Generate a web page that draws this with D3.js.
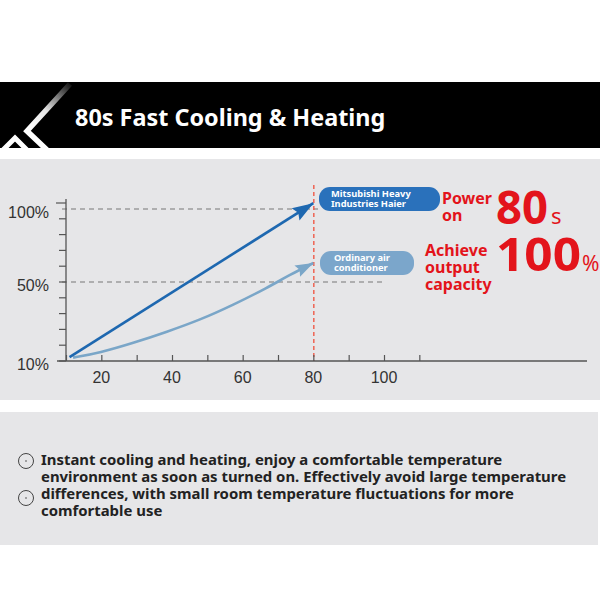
<!DOCTYPE html>
<html>
<head>
<meta charset="utf-8">
<script src="https://cdn.jsdelivr.net/npm/d3@7/dist/d3.min.js"></script>
<style>
  html, body { margin: 0; padding: 0; background: #ffffff; }
  svg { display: block; font-family: "Noto Sans", "Open Sans", sans-serif; }
</style>
</head>
<body>
<svg id="chart" width="600" height="600"></svg>
<script>
// ---- data ----
const title = "80s Fast Cooling & Heating";
const xTicks = [10, 20, 30, 40, 50, 60, 70, 80, 90, 100, 110];
const xTickLabels = [20, 40, 60, 80, 100];
const yTickLabels = [10, 50, 100];
const yMinorTickCount = 11;
const seriesNames = ["Mitsubishi Heavy Industries Haier", "Ordinary air conditioner"];
const haierX = [11, 80];
const haierY = [12, 104];
const ordinaryX = [12, 19.6, 29, 38.6, 47.9, 57.3, 66.9, 73.4, 80];
const ordinaryY = [11.7, 14.2, 19.1, 24.8, 30.8, 38.4, 47, 55, 63];
const markerTime = 80;
const bodyLines = [
  "Instant cooling and heating, enjoy a comfortable temperature",
  "environment as soon as turned on. Effectively avoid large temperature",
  "differences, with small room temperature fluctuations for more",
  "comfortable use"
];

const svg = d3.select("#chart");
const PANEL = "#e6e6e8";

// ---- backgrounds ----
svg.append("rect").attr("x", 0).attr("y", 0).attr("width", 600).attr("height", 600).attr("fill", "#fff");
svg.append("rect").attr("x", 0).attr("y", 82).attr("width", 600).attr("height", 66).attr("fill", "#000");
svg.append("rect").attr("x", 0).attr("y", 159).attr("width", 600).attr("height", 241).attr("fill", PANEL);
svg.append("rect").attr("x", 0).attr("y", 412).attr("width", 598).attr("height", 133).attr("fill", PANEL);

// ---- banner logo ----
const defs = svg.append("defs");
const grad = defs.append("linearGradient").attr("id", "stripe")
  .attr("gradientUnits", "userSpaceOnUse").attr("x1", 72).attr("y1", 84).attr("x2", 30).attr("y2", 130);
grad.append("stop").attr("offset", 0).attr("stop-color", "#fff").attr("stop-opacity", 0.05);
grad.append("stop").attr("offset", 0.6).attr("stop-color", "#fff").attr("stop-opacity", 0.9);
grad.append("stop").attr("offset", 1).attr("stop-color", "#fff").attr("stop-opacity", 1);
defs.append("clipPath").attr("id", "bannerClip").append("rect")
  .attr("x", 0).attr("y", 82).attr("width", 600).attr("height", 66);
const logo = svg.append("g").attr("clip-path", "url(#bannerClip)");
logo.append("path").attr("d", "M70,84 L27,131 L47,150")
  .attr("fill", "none").attr("stroke", "url(#stripe)").attr("stroke-width", 5.5).attr("stroke-linejoin", "miter");
logo.append("path").attr("d", "M3,150 L15,138 L27,150")
  .attr("fill", "none").attr("stroke", "#fff").attr("stroke-width", 5);

svg.append("text").attr("x", 75).attr("y", 125.5)
  .attr("fill", "#fff").attr("font-size", 23.4).attr("font-weight", 700)
  .text(title);

// ---- scales ----
const x = d3.scaleLinear().domain([10, 100]).range([66, 384]);
const y = d3.scaleLinear().domain([10, 50, 100]).range([361, 282, 209]);
const yTickPos = d3.scaleLinear().domain([0, yMinorTickCount - 1]).range([361, 203]);

const axisColor = "#555";
const g = svg.append("g");

// reference dashed lines
g.append("line").attr("x1", 62).attr("x2", 318).attr("y1", y(100)).attr("y2", y(100))
  .attr("stroke", "#777").attr("stroke-width", 1.1).attr("stroke-dasharray", "5,4");
g.append("line").attr("x1", 62).attr("x2", 383).attr("y1", y(50)).attr("y2", y(50))
  .attr("stroke", "#777").attr("stroke-width", 1.1).attr("stroke-dasharray", "5,4");
g.append("line").attr("x1", x(markerTime) + 0.5).attr("x2", x(markerTime) + 0.5).attr("y1", 185).attr("y2", 361)
  .attr("stroke", "#f0503c").attr("stroke-width", 1.3).attr("stroke-dasharray", "4,3");

// x axis
const xAxis = d3.axisBottom(x).tickValues(xTicks).tickSize(-6).tickFormat("").tickSizeOuter(0);
const xg = g.append("g").attr("transform", "translate(0,361)").call(xAxis);
xg.select(".domain").remove();
xg.selectAll("line").attr("stroke", axisColor).attr("stroke-width", 1.2);
g.append("line").attr("x1", 57).attr("x2", 587).attr("y1", 361).attr("y2", 361)
  .attr("stroke", axisColor).attr("stroke-width", 1.3);
g.selectAll(".xlab").data(xTickLabels).join("text")
  .attr("x", d => x(d)).attr("y", 383).attr("text-anchor", "middle")
  .attr("font-size", 16).attr("fill", "#333").attr("font-family", "'Liberation Sans', 'DejaVu Sans', sans-serif")
  .text(d => d);

// y axis
g.append("line").attr("x1", 66).attr("x2", 66).attr("y1", 199).attr("y2", 361)
  .attr("stroke", axisColor).attr("stroke-width", 1.3);
g.selectAll(".ytick").data(d3.range(yMinorTickCount)).join("line")
  .attr("x1", d => d === yMinorTickCount - 1 ? 56 : 59).attr("x2", 66)
  .attr("y1", d => yTickPos(d)).attr("y2", d => yTickPos(d))
  .attr("stroke", axisColor).attr("stroke-width", 1.2);
g.selectAll(".ylab").data(yTickLabels).join("text")
  .attr("x", 49).attr("y", d => y(d) + 9).attr("text-anchor", "end")
  .attr("font-size", 16).attr("fill", "#333").attr("font-family", "'Liberation Sans', 'DejaVu Sans', sans-serif")
  .text(d => d + "%");

// arrow markers
function marker(id, color, s) {
  defs.append("marker").attr("id", id)
    .attr("markerUnits", "userSpaceOnUse").attr("markerWidth", 24).attr("markerHeight", 18)
    .attr("viewBox", "0 -9 24 18").attr("refX", 20 * s).attr("refY", 0).attr("orient", "auto")
    .append("path").attr("d", `M0,${-7 * s} L${20 * s},0 L0,${7 * s} L${3 * s},0 Z`).attr("fill", color);
}
marker("arrBlue", "#1e68b0", 1.05);
marker("arrLight", "#7aa6c8", 0.9);

const line = d3.line().x(d => x(d[0])).y(d => y(d[1]));
const lineCurve = d3.line().x(d => x(d[0])).y(d => y(d[1])).curve(d3.curveBasis);

g.append("path").datum(ordinaryX.map((v, i) => [v, ordinaryY[i]]))
  .attr("d", lineCurve).attr("fill", "none").attr("stroke", "#7aa6c8").attr("stroke-width", 2.6)
  .attr("marker-end", "url(#arrLight)");
g.append("path").datum(haierX.map((v, i) => [v, haierY[i]]))
  .attr("d", line).attr("fill", "none").attr("stroke", "#1e68b0").attr("stroke-width", 2.6)
  .attr("marker-end", "url(#arrBlue)");

// series label boxes
const boxes = [
  { name: seriesNames[0], lines: ["Mitsubishi Heavy", "Industries Haier"], x: 319, y: 187, w: 121, h: 24, fill: "#2a71bb", tx: 331 },
  { name: seriesNames[1], lines: ["Ordinary air", "conditioner"], x: 320, y: 251, w: 94, h: 24, fill: "#7ba6cb", tx: 334 }
];
boxes.forEach(b => {
  g.append("rect").attr("x", b.x).attr("y", b.y).attr("width", b.w).attr("height", b.h)
    .attr("rx", 11).attr("fill", b.fill);
  b.lines.forEach((t, i) => {
    g.append("text").attr("x", b.tx).attr("y", b.y + 10 + i * 9.6)
      .attr("fill", "#fff").attr("font-size", 9.3).attr("font-weight", 700).text(t);
  });
});

// red callouts
const red = "#e3141b";
const rt = svg.append("g").attr("fill", red);
rt.append("text").attr("x", 442).attr("y", 203.5).attr("font-size", 16).attr("font-weight", 700).text("Power");
rt.append("text").attr("x", 442).attr("y", 220.5).attr("font-size", 16).attr("font-weight", 700).text("on");
rt.append("text").attr("x", 496).attr("y", 224).attr("font-size", 47).attr("font-weight", 700)
  .attr("textLength", 52).attr("lengthAdjust", "spacingAndGlyphs").text("80");
rt.append("text").attr("x", 551).attr("y", 224).attr("font-size", 22).attr("font-weight", 400).text("s");
rt.append("text").attr("x", 425).attr("y", 256).attr("font-size", 16).attr("font-weight", 700).text("Achieve");
rt.append("text").attr("x", 425).attr("y", 273).attr("font-size", 16).attr("font-weight", 700).text("output");
rt.append("text").attr("x", 425).attr("y", 290).attr("font-size", 16).attr("font-weight", 700).text("capacity");
rt.append("text").attr("x", 496).attr("y", 271).attr("font-size", 47).attr("font-weight", 700)
  .attr("textLength", 85).attr("lengthAdjust", "spacingAndGlyphs").text("100");
rt.append("text").attr("x", 582).attr("y", 271).attr("font-size", 21).attr("font-weight", 400).text("%");

// body text
const body = svg.append("g");
[461, 498].forEach(cy => {
  body.append("circle").attr("cx", 26).attr("cy", cy).attr("r", 7.5)
    .attr("fill", "none").attr("stroke", "#444").attr("stroke-width", 1);
  body.append("circle").attr("cx", 26).attr("cy", cy).attr("r", 0.8).attr("fill", "#444");
});
body.selectAll(".bl").data(bodyLines).join("text")
  .attr("x", 41).attr("y", (d, i) => 464.5 + i * 17)
  .attr("font-size", 14.9).attr("font-weight", 700).attr("fill", "#222")
  .text(d => d);
</script>
</body>
</html>
